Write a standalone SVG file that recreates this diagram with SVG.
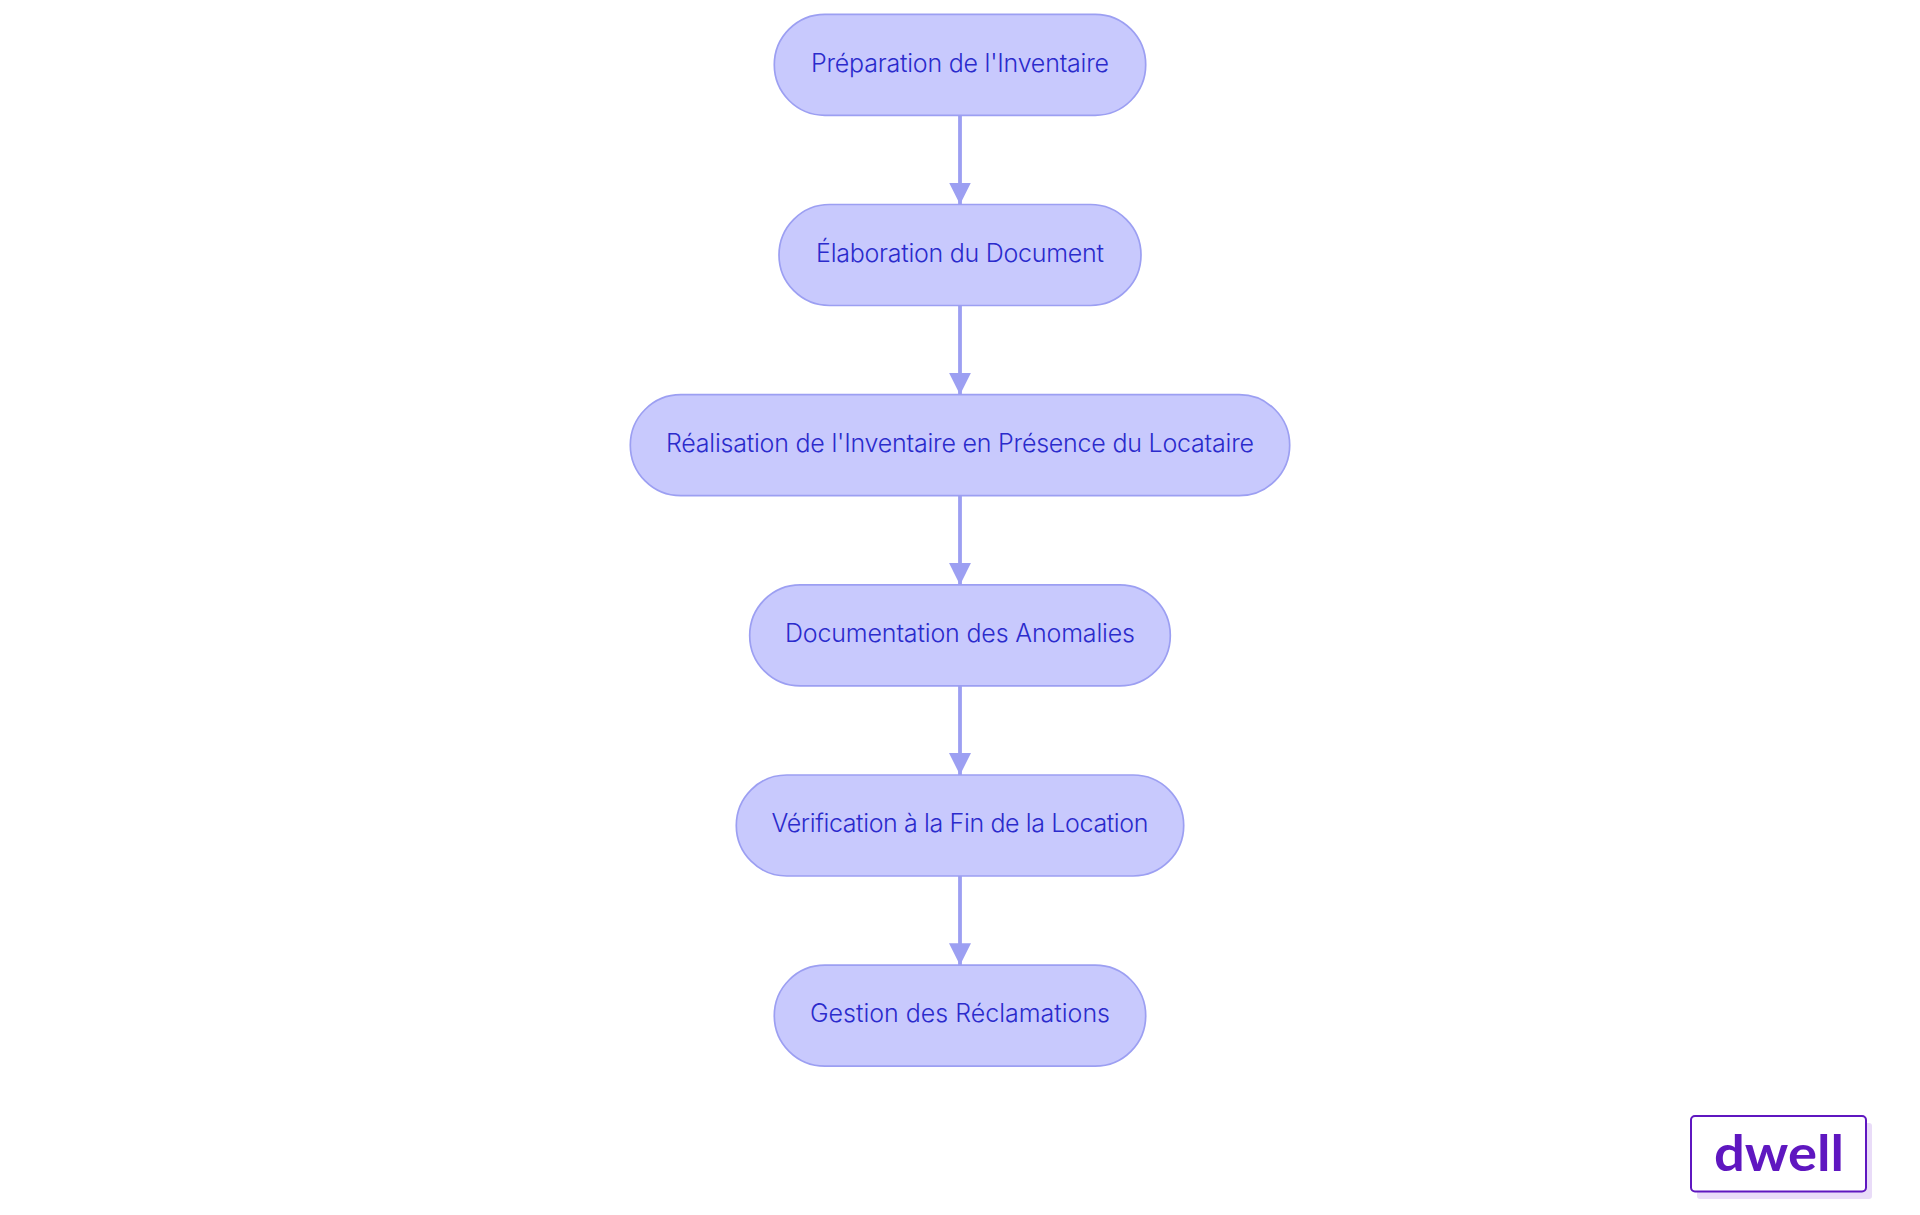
<svg xmlns="http://www.w3.org/2000/svg" width="1920" height="1215" viewBox="0 0 1920 1215">
<defs>
<style>
.n rect{fill:#c8c9fd;stroke:#9c9ff2;stroke-width:1.7}
.n text{font-family:"Inter","Noto Sans",sans-serif;font-size:25px;font-weight:350;fill:#2b2bcc;text-anchor:middle}
.e line{stroke:#9c9ff2;stroke-width:3.8;fill:none}
</style>
<marker id="arrow" markerUnits="userSpaceOnUse" markerWidth="22" markerHeight="22" refX="22" refY="11" orient="auto" viewBox="0 0 22 22"><path d="M0 0L22 11L0 22Z" fill="#9c9ff2"/></marker>
</defs>
<rect width="1920" height="1215" fill="#ffffff"/>
<g id="connectors" class="e">
<line x1="960" y1="115" x2="960" y2="204.500" marker-end="url(#arrow)"/>
<line x1="960" y1="305" x2="960" y2="394.700" marker-end="url(#arrow)"/>
<line x1="960" y1="495" x2="960" y2="584.900" marker-end="url(#arrow)"/>
<line x1="960" y1="685" x2="960" y2="775" marker-end="url(#arrow)"/>
<line x1="960" y1="875" x2="960" y2="965.200" marker-end="url(#arrow)"/>
</g>
<g id="node1" class="n"><rect x="774.300" y="14.300" width="371.400" height="101" rx="50.500"/><text x="960" y="72" textLength="298">Préparation de l'Inventaire</text></g>
<g id="node2" class="n"><rect x="779" y="204.500" width="362" height="101" rx="50.500"/><text x="960" y="262" textLength="288">Élaboration du Document</text></g>
<g id="node3" class="n"><rect x="630.300" y="394.700" width="659.400" height="101" rx="50.500"/><text x="960" y="452" textLength="588">Réalisation de l'Inventaire en Présence du Locataire</text></g>
<g id="node4" class="n"><rect x="749.700" y="584.900" width="420.600" height="101" rx="50.500"/><text x="960" y="642" textLength="350">Documentation des Anomalies</text></g>
<g id="node5" class="n"><rect x="736.300" y="775" width="447.400" height="101" rx="50.500"/><text x="960" y="832" textLength="377">Vérification à la Fin de la Location</text></g>
<g id="node6" class="n"><rect x="774.300" y="965.200" width="371.400" height="101" rx="50.500"/><text x="960" y="1022" textLength="300">Gestion des Réclamations</text></g>
<g id="logo">
<rect x="1697" y="1123" width="175" height="76" rx="3" fill="#e9dcf8"/>
<rect x="1691" y="1116" width="175" height="75.500" rx="4" fill="#ffffff" stroke="#5f17c0" stroke-width="2"/>
<text x="1714" y="1170.500" font-family="Lato,'Open Sans',sans-serif" font-weight="700" font-size="50" fill="#5f17c0" textLength="130" lengthAdjust="spacingAndGlyphs">dwell</text>
</g>
</svg>
